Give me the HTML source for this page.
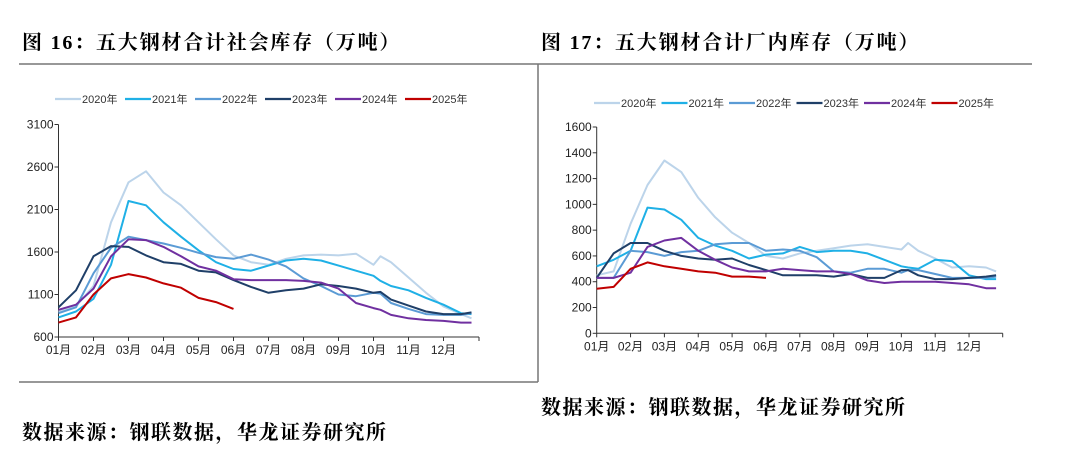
<!DOCTYPE html>
<html><head><meta charset="utf-8"><style>
body{margin:0;background:#fff;}
svg{display:block;font-family:"Liberation Sans","Noto Sans CJK SC",sans-serif;}
.t{font-family:"Liberation Serif","Noto Serif CJK SC",serif;font-weight:bold;font-size:20px;fill:#000;letter-spacing:1.8px;}
.s{letter-spacing:1.5px;}
.ax{font-size:12px;fill:#222;}
.lg{font-size:11px;fill:#333;}
</style></head><body>
<svg id="svg" width="1080" height="463" viewBox="0 0 1080 463">
<text class="t" x="22" y="49">图 16：五大钢材合计社会库存（万吨）</text>
<text class="t" x="541" y="49">图 17：五大钢材合计厂内库存（万吨）</text>
<line x1="19" y1="64" x2="1032" y2="64" stroke="#777" stroke-width="1.5"/>
<line x1="538" y1="64" x2="538" y2="382" stroke="#777" stroke-width="1.5"/>
<line x1="19" y1="382" x2="538" y2="382" stroke="#777" stroke-width="1.5"/>
<text class="t s" x="541" y="414">数据来源：钢联数据，华龙证券研究所</text>
<text class="t s" x="22" y="439">数据来源：钢联数据，华龙证券研究所</text>
<g id="left"></g>
<g id="right"></g>
</svg>
<script>
const months = ["01月","02月","03月","04月","05月","06月","07月","08月","09月","10月","11月","12月"];
const years = ["2020年","2021年","2022年","2023年","2024年","2025年"];
const colors = ["#bcd4ea","#1fb0e6","#5b9bd5","#1f3f68","#7030a0","#c00000"];
const xGrid = [0,0.5,1,1.5,2,2.5,3,3.5,4,4.5,5,5.5,6,6.5,7,7.5,8,8.5,9,9.2,9.5,10,10.5,11,11.5,11.8];
const leftTicks = [600,1100,1600,2100,2600,3100];
const rightTicks = [0,200,400,600,800,1000,1200,1400,1600];
const social2020 = [900,960,1200,1950,2420,2550,2300,2150,1950,1750,1560,1480,1450,1520,1560,1570,1560,1580,1450,1550,1480,1300,1120,960,870,820];
const social2021 = [830,900,1050,1450,2200,2150,1950,1780,1620,1480,1400,1380,1440,1500,1520,1500,1440,1380,1320,1260,1200,1150,1060,980,880,870];
const social2022 = [880,950,1350,1650,1780,1740,1700,1650,1590,1540,1520,1570,1510,1430,1290,1200,1100,1080,1120,1110,1000,930,870,860,860,880];
const social2023 = [950,1150,1550,1670,1660,1560,1480,1460,1380,1360,1270,1190,1120,1150,1170,1220,1200,1170,1120,1130,1040,970,900,870,870,890];
const social2024 = [920,980,1170,1550,1750,1740,1660,1550,1430,1380,1280,1270,1270,1270,1260,1240,1170,1000,940,920,860,820,800,790,770,770];
const social2025 = [770,830,1100,1290,1340,1300,1230,1180,1060,1010,930];
const plant2020 = [450,480,850,1150,1340,1250,1050,900,780,700,600,580,620,640,660,680,690,670,650,700,640,580,510,520,510,480];
const plant2021 = [520,570,640,975,960,880,740,680,640,580,610,620,670,630,640,640,620,570,520,510,500,570,560,450,420,420];
const plant2022 = [430,430,640,630,600,630,640,690,700,700,640,650,640,590,480,470,500,500,470,490,490,460,430,430,430,440];
const plant2023 = [430,620,700,700,640,600,580,570,580,530,490,450,450,450,440,460,430,430,490,490,450,420,420,430,440,450];
const plant2024 = [430,430,470,670,720,740,640,570,510,480,480,500,490,480,480,460,410,390,400,400,400,400,390,380,350,350];
const plant2025 = [345,360,500,550,520,500,480,470,440,440,430];
const socialSeries = [social2020,social2021,social2022,social2023,social2024,social2025];
const plantSeries = [plant2020,plant2021,plant2022,plant2023,plant2024,plant2025];

const NS="http://www.w3.org/2000/svg";
function mk(tag,attrs,parent){const e=document.createElementNS(NS,tag);for(const k in attrs)e.setAttribute(k,attrs[k]);parent.appendChild(e);return e;}

function draw(g, cfg, series, ticks){
  const xs=m=>cfg.x0+m*cfg.dx;
  const ys=v=>cfg.yb-(v-ticks[0])/(ticks[ticks.length-1]-ticks[0])*(cfg.yb-cfg.yt);
  years.forEach((y,i)=>{
    const lx=cfg.legX+i*cfg.legStep;
    const ln=mk("line",{x1:lx,y1:cfg.legY,x2:lx+26,y2:cfg.legY,stroke:colors[i],"stroke-width":2.2},g);
    
    
    const t=mk("text",{x:lx+27,y:cfg.legY+4,class:"lg"},g);t.textContent=y;
    
    
  });
  const ya=mk("line",{x1:cfg.x0,y1:cfg.yt,x2:cfg.x0,y2:cfg.yb,stroke:"#333"},g);
  
  
  const xa=mk("line",{x1:cfg.x0,y1:cfg.yb,x2:cfg.xEnd,y2:cfg.yb,stroke:"#333"},g);
  
  
  ticks.forEach(v=>{
    mk("line",{x1:cfg.x0-4,y1:ys(v),x2:cfg.x0,y2:ys(v),stroke:"#333"},g);
    const t=mk("text",{x:cfg.x0-5,y:ys(v)+4,class:"ax","text-anchor":"end"},g);t.textContent=v;
    
    
  });
  months.forEach((m,i)=>{
    mk("line",{x1:xs(i),y1:cfg.yb,x2:xs(i),y2:cfg.yb+4,stroke:"#333"},g);
    const t=mk("text",{x:xs(i),y:cfg.yb+17,class:"ax","text-anchor":"middle"},g);t.textContent=m;
    
    
  });
  mk("line",{x1:cfg.xEnd,y1:cfg.yb,x2:cfg.xEnd,y2:cfg.yb+4,stroke:"#333"},g);
  series.forEach((s,i)=>{
    const d=s.map((v,j)=>(j?"L":"M")+xs(xGrid[j]).toFixed(1)+","+ys(v).toFixed(1)).join("");
    const p=mk("path",{d:d,fill:"none",stroke:colors[i],"stroke-width":2,"stroke-linejoin":"round"},g);
    
    
  });
}
draw(document.getElementById("left"),{x0:58.5,dx:35,yt:124.5,yb:337,xEnd:479,legX:55,legStep:70,legY:99},socialSeries,leftTicks);
draw(document.getElementById("right"),{x0:596.7,dx:33.85,yt:127,yb:333.3,xEnd:1002.7,legX:594,legStep:67.5,legY:103},plantSeries,rightTicks);
</script>
</body></html>
